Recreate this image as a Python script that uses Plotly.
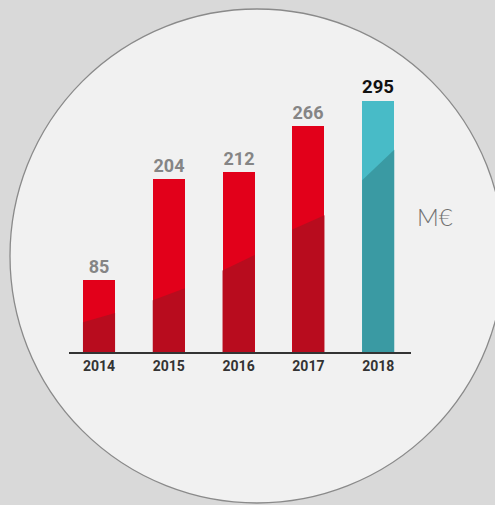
import plotly.graph_objects as go

# ---- data ----
years = ["2014", "2015", "2016", "2017", "2018"]
values = [85, 204, 212, 266, 295]
# darker lower band (value units) at left / right edge of each bar
shade_left = [35, 61, 96, 144, 202]
shade_right = [46, 75, 114, 161, 238]
unit_label = "M€"

# ---- styles ----
W, H = 495, 505
bar_w = 0.46
light = ["#e2001a", "#e2001a", "#e2001a", "#e2001a", "#48bbc7"]
dark = ["#b80c1e", "#b80c1e", "#b80c1e", "#b80c1e", "#3a9aa3"]
lab_col = ["#858585", "#858585", "#858585", "#858585", "#111111"]
lab_size = [18, 18, 18, 18, 23]

fig = go.Figure()
xs = list(range(len(years)))
fig.add_trace(go.Bar(
    x=xs, y=values, width=bar_w,
    marker=dict(color=light, line=dict(width=0)),
    text=[str(v) for v in values], textposition="outside",
    textfont=dict(family="Roboto", color=lab_col, size=lab_size, weight="bold"),
    cliponaxis=False, hoverinfo="skip", showlegend=False,
))
for i in xs:
    fig.add_trace(go.Scatter(
        x=[i - bar_w / 2, i + bar_w / 2, i + bar_w / 2, i - bar_w / 2, i - bar_w / 2],
        y=[0, 0, shade_right[i], shade_left[i], 0],
        mode="lines", fill="toself", fillcolor=dark[i],
        line=dict(width=0, color=dark[i]), hoverinfo="skip", showlegend=False,
    ))

# circle
cx, cy, r = 257, 256, 247
fig.add_shape(type="circle", xref="paper", yref="paper",
              x0=(cx - r) / W, x1=(cx + r) / W,
              y0=1 - (cy + r) / H, y1=1 - (cy - r) / H,
              fillcolor="#f1f1f1", line=dict(color="#8a8a8a", width=1.3), layer="below")

fig.add_annotation(text=unit_label, xref="paper", yref="paper",
                   x=435 / W, y=1 - 217 / H, xanchor="center", yanchor="middle",
                   showarrow=False,
                   font=dict(family="Lato", size=24, color="#707070", weight=300))

x_lo, x_hi = 69, 411
base_px, top_px = 352, 60
scale = 0.85
fig.update_layout(
    width=W, height=H, autosize=False,
    margin=dict(l=0, r=0, t=0, b=0),
    paper_bgcolor="#d9d9d9", plot_bgcolor="rgba(0,0,0,0)",
    bargap=0,
    xaxis=dict(domain=[x_lo / W, x_hi / W], range=[-0.43, 4.47],
               tickvals=xs, ticktext=years, showgrid=False, zeroline=False,
               showline=True, linecolor="#333333", linewidth=2, ticks="",
               tickfont=dict(family="Roboto", size=14, color="#333333", weight="bold"),
               fixedrange=True),
    yaxis=dict(domain=[1 - base_px / H, 1 - top_px / H],
               range=[0, (base_px - top_px) / scale],
               visible=False, showgrid=False, zeroline=False, fixedrange=True),
)
fig.write_html("out.html", config={"displayModeBar": False},
               post_script="document.body.style.margin='0';document.body.style.overflow='hidden';")
